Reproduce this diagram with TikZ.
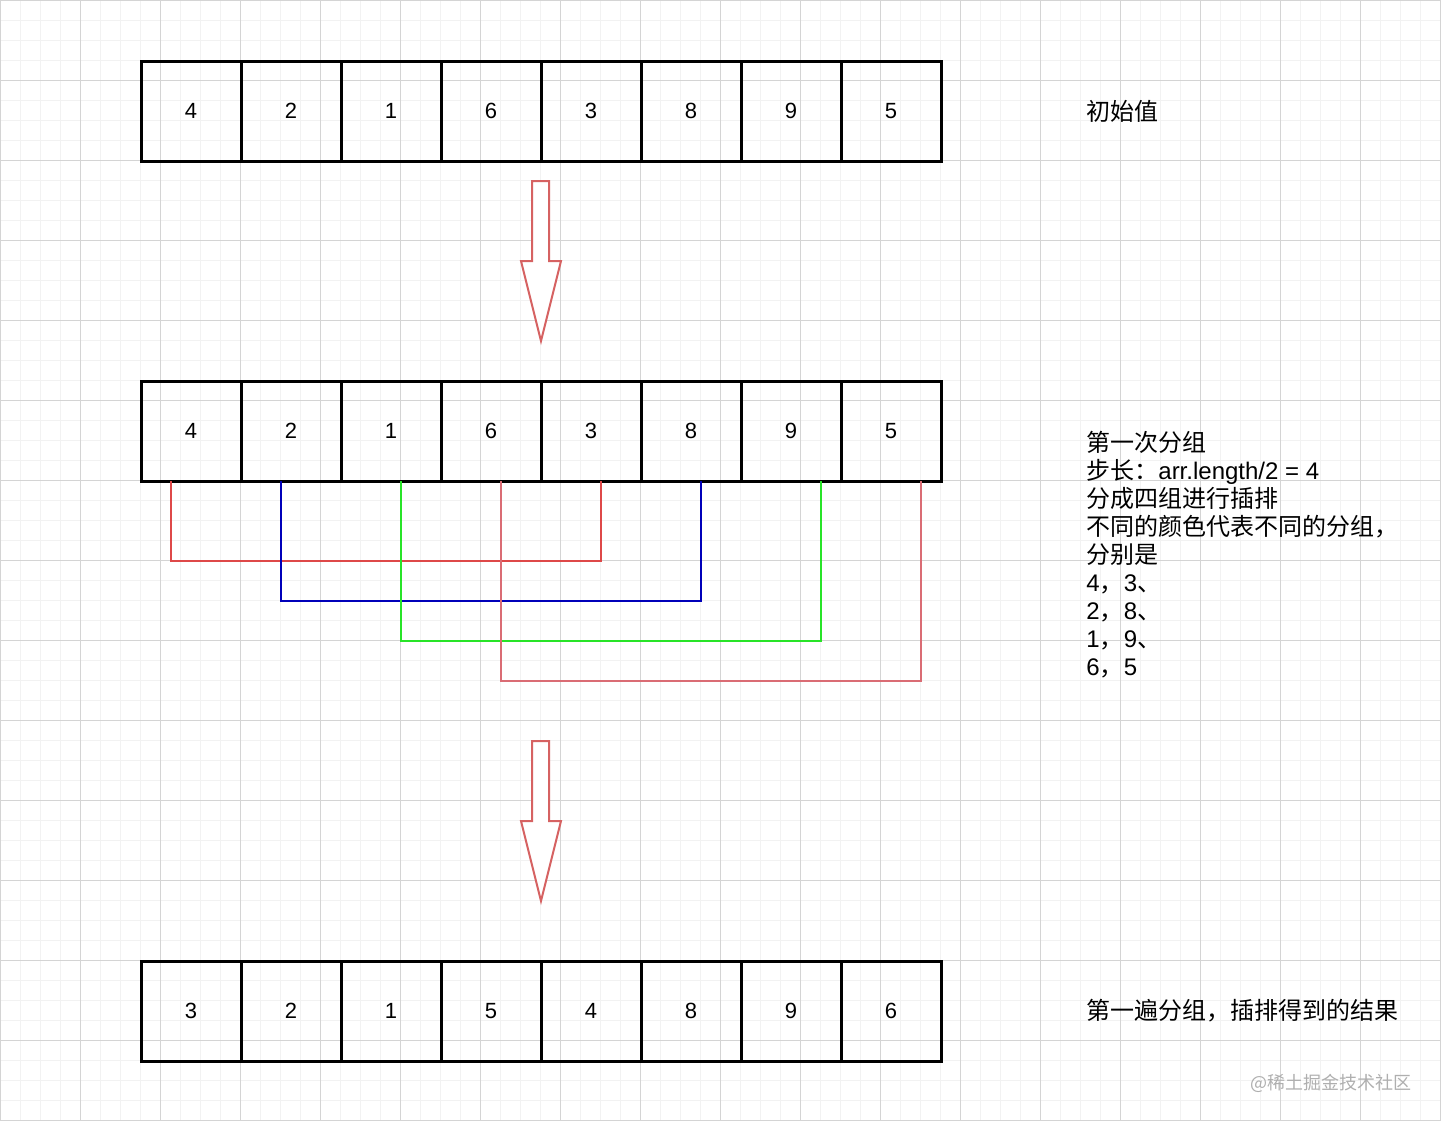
\documentclass[tikz,border=0pt]{standalone}
\usepackage{fontspec}
\setmainfont{Liberation Sans}
\newfontfamily\cjk{Noto Sans CJK SC}

\definecolor{minorgray}{RGB}{242,242,242}
\definecolor{majorgray}{RGB}{212,212,212}
\definecolor{groupred}{RGB}{222,72,72}
\definecolor{groupblue}{RGB}{0,0,185}
\definecolor{groupgreen}{RGB}{40,228,40}
\definecolor{grouppink}{RGB}{218,108,116}
\definecolor{arrowred}{RGB}{214,98,98}
\definecolor{markgray}{RGB}{175,175,175}

\tikzstyle{minorline} = [draw=minorgray, line width=0.5pt]
\tikzstyle{majorline} = [draw=majorgray, line width=0.5pt]
\tikzstyle{cell} = [draw, line width=1.5pt, minimum size=50pt, inner sep=0pt, outer sep=0pt, font=\fontsize{11}{13}\selectfont]
\tikzstyle{note} = [anchor=west, inner sep=0pt, font=\fontsize{12}{14}\selectfont\cjk]
\tikzstyle{group} = [line width=1pt]
\tikzstyle{blockarrow} = [draw=arrowred, line width=1pt, fill=white, line join=miter]

\begin{document}
\begin{tikzpicture}[x=0.5pt,y=-0.5pt]
\useasboundingbox (0,0) rectangle (1441,1121);
\fill[white] (0,0) rectangle (1441,1121);
\foreach \k in {0,20,...,1440} \draw[minorline] (\k,0) -- (\k,1121);
\foreach \k in {0,20,...,1120} \draw[minorline] (0,\k) -- (1441,\k);
\foreach \k in {0,80,...,1440} \draw[majorline] (\k,0) -- (\k,1121);
\foreach \k in {0,80,...,1120} \draw[majorline] (0,\k) -- (1441,\k);

\foreach \v [count=\i] in {4,2,1,6,3,8,9,5}
  \node[cell] (a\i) at (91+100*\i,111) {\v};
\foreach \v [count=\i] in {4,2,1,6,3,8,9,5}
  \node[cell] (b\i) at (91+100*\i,431) {\v};
\foreach \v [count=\i] in {3,2,1,5,4,8,9,6}
  \node[cell] (c\i) at (91+100*\i,1011) {\v};

\draw[blockarrow] (532,181) -- (549,181) -- (549,261) -- (561,261) -- (541,341) -- (521,261) -- (532,261) -- cycle;
\draw[blockarrow] (532,741) -- (549,741) -- (549,821) -- (561,821) -- (541,901) -- (521,821) -- (532,821) -- cycle;

\draw[group, groupred] ([xshift=-10pt]b1.south) -- ++(0,80) -| ([xshift=5pt]b5.south);
\draw[group, groupblue] ([xshift=-5pt]b2.south) -- ++(0,120) -| ([xshift=5pt]b6.south);
\draw[group, groupgreen] ([xshift=5pt]b3.south) -- ++(0,160) -| ([xshift=15pt]b7.south);
\draw[group, grouppink] ([xshift=5pt]b4.south) -- ++(0,200) -| ([xshift=15pt]b8.south);

\node[note] (init) at (1086,111) {初始值};
\node[note, anchor=north west, align=left] (desc) at (1086,431) {第一次分组\\
步长：{\fontspec{Liberation Sans}arr.length/2 = 4}\\
分成四组进行插排\\
不同的颜色代表不同的分组，\\
分别是\\
{\fontspec{Liberation Sans}4}，{\fontspec{Liberation Sans}3}、\\
{\fontspec{Liberation Sans}2}，{\fontspec{Liberation Sans}8}、\\
{\fontspec{Liberation Sans}1}，{\fontspec{Liberation Sans}9}、\\
{\fontspec{Liberation Sans}6}，{\fontspec{Liberation Sans}5}};
\node[note] (result) at (1086,1011) {第一遍分组，插排得到的结果};
\node[anchor=east, inner sep=0pt, text=markgray, font=\fontsize{9}{11}\selectfont\cjk] (mark) at (1412,1083) {@稀土掘金技术社区};
\end{tikzpicture}
\end{document}
